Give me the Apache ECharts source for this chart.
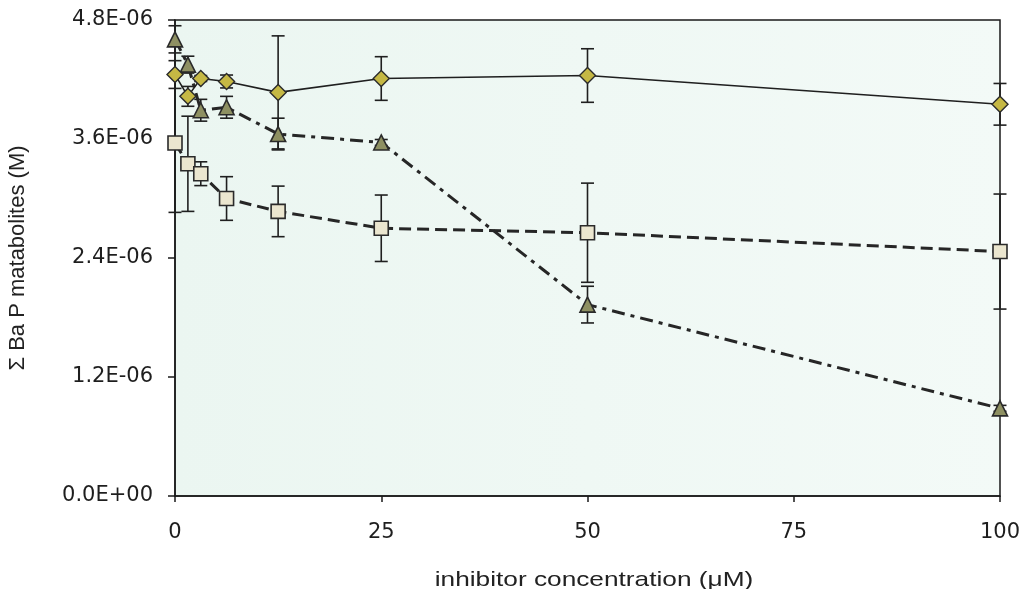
<!DOCTYPE html>
<html>
<head>
<meta charset="utf-8">
<script src="https://cdn.jsdelivr.net/npm/echarts@6/dist/echarts.min.js"></script>
<style>
  html, body { margin: 0; padding: 0; background: #ffffff; }
  #chart { width: 1025px; height: 589px; }
</style>
</head>
<body>
<div id="chart"></div>
<script>
// Inhibitor concentrations (µM)
const concentrations = [0, 1.5625, 3.125, 6.25, 12.5, 25, 50, 100];

// Σ BaP metabolites (M) and standard deviations for each condition
const diamondValues = [4.25e-6, 4.03e-6, 4.21e-6, 4.18e-6, 4.07e-6, 4.21e-6, 4.24e-6, 3.95e-6];
const diamondErrors = [0.14e-6, 0.10e-6, 0.03e-6, 0.065e-6, 0.57e-6, 0.22e-6, 0.27e-6, 0.21e-6];

const squareValues = [3.56e-6, 3.35e-6, 3.25e-6, 3.00e-6, 2.87e-6, 2.70e-6, 2.655e-6, 2.465e-6];
const squareErrors = [0.70e-6, 0.48e-6, 0.12e-6, 0.22e-6, 0.255e-6, 0.335e-6, 0.50e-6, 0.58e-6];

const triangleValues = [4.605e-6, 4.35e-6, 3.89e-6, 3.92e-6, 3.65e-6, 3.565e-6, 1.93e-6, 0.884e-6];
const triangleErrors = [0.137e-6, 0.085e-6, 0.11e-6, 0.11e-6, 0.16e-6, 0.03e-6, 0.185e-6, 0.03e-6];

// Axis ranges
const yMin = 0, yMax = 4.8e-6, yStep = 1.2e-6;
const xMin = 0, xMax = 100, xStep = 25;

const xTitle = 'inhibitor concentration (\u03BCM)';
const yTitle = '\u03A3 Ba P matabolites (M)';

// Spreadsheet-style scientific notation: 3.6E-06, 0.0E+00
function sciLabel(v) {
  if (Math.abs(v) < 1e-15) return '0.0E+00';
  const parts = v.toExponential(1).split('e');
  const exp = parseInt(parts[1], 10);
  const sign = exp < 0 ? '-' : '+';
  const mag = String(Math.abs(exp)).padStart(2, '0');
  return parts[0] + 'E' + sign + mag;
}

function pairs(xs, ys) { return xs.map((x, i) => [x, ys[i]]); }
function errData(xs, ys, es) { return xs.map((x, i) => [x, ys[i] - es[i], ys[i] + es[i]]); }

// Vertical error bars with caps, drawn in data coordinates
function errorBarSeries(xs, ys, es) {
  return {
    type: 'custom',
    z: 2,
    silent: true,
    data: errData(xs, ys, es),
    encode: { x: 0, y: [1, 2] },
    renderItem: function (params, api) {
      const x = api.value(0);
      const lo = api.coord([x, api.value(1)]);
      const hi = api.coord([x, api.value(2)]);
      const half = 6.5;
      const style = { stroke: '#1f1f1f', lineWidth: 1.6 };
      return {
        type: 'group',
        children: [
          { type: 'line', shape: { x1: lo[0], y1: lo[1], x2: hi[0], y2: hi[1] }, style: style },
          { type: 'line', shape: { x1: lo[0] - half, y1: lo[1], x2: lo[0] + half, y2: lo[1] }, style: style },
          { type: 'line', shape: { x1: hi[0] - half, y1: hi[1], x2: hi[0] + half, y2: hi[1] }, style: style }
        ]
      };
    }
  };
}

const chart = echarts.init(document.getElementById('chart'), null, { renderer: 'canvas' });

const tickFont = 'DejaVu Sans, Liberation Sans, sans-serif';
const titleFont = 'Liberation Sans, Arial, sans-serif';

chart.setOption({
  backgroundColor: '#ffffff',
  animation: false,
  grid: {
    left: 175, right: 25, top: 20, bottom: 93,
    outerBoundsMode: 'none',
    containLabel: false,
    show: true,
    backgroundColor: new echarts.graphic.LinearGradient(0, 0, 1, 0, [
      { offset: 0, color: '#ebf6f1' },
      { offset: 0.5, color: '#eff8f4' },
      { offset: 1, color: '#f3faf7' }
    ]),
    borderColor: '#1a1a1a',
    borderWidth: 1.5
  },
  xAxis: {
    type: 'value',
    min: xMin, max: xMax, interval: xStep,
    axisLine: { show: true, onZero: false, lineStyle: { color: '#1a1a1a', width: 1.5 } },
    axisTick: { show: true, length: 6, lineStyle: { color: '#1a1a1a', width: 1.5 } },
    axisLabel: { fontFamily: tickFont, fontSize: 21, color: '#1e1e1e', margin: 26 },
    splitLine: { show: false }
  },
  yAxis: {
    type: 'value',
    min: yMin, max: yMax, interval: yStep,
    name: yTitle,
    nameLocation: 'middle',
    nameGap: 146,
    nameRotate: 90,
    nameTextStyle: { fontFamily: titleFont, fontSize: 22, color: '#222' },
    axisLine: { show: true, onZero: false, lineStyle: { color: '#1a1a1a', width: 1.5 } },
    axisTick: { show: true, length: 7, lineStyle: { color: '#1a1a1a', width: 1.5 } },
    axisLabel: { fontFamily: tickFont, fontSize: 21, color: '#1e1e1e', margin: 22, formatter: sciLabel },
    splitLine: { show: false }
  },
  graphic: [{
    type: 'text',
    x: 594,
    y: 580,
    scaleX: 1.25,
    silent: true,
    style: {
      text: xTitle,
      font: '21px ' + titleFont,
      fill: '#222',
      align: 'center',
      verticalAlign: 'middle'
    }
  }],
  series: [
    errorBarSeries(concentrations, squareValues, squareErrors),
    errorBarSeries(concentrations, triangleValues, triangleErrors),
    errorBarSeries(concentrations, diamondValues, diamondErrors),
    {
      type: 'line',
      z: 3,
      data: pairs(concentrations, squareValues),
      symbol: 'rect',
      symbolSize: 14,
      showAllSymbol: true,
      lineStyle: { color: '#262626', width: 3, type: [12, 6] },
      itemStyle: { color: '#ebe6cf', borderColor: '#2a2a2a', borderWidth: 1.6 }
    },
    {
      type: 'line',
      z: 3,
      data: pairs(concentrations, triangleValues),
      symbol: 'triangle',
      symbolSize: 15,
      showAllSymbol: true,
      lineStyle: { color: '#262626', width: 3, type: [13, 6, 4, 6] },
      itemStyle: { color: '#8e9062', borderColor: '#2a2a2a', borderWidth: 1.6 }
    },
    {
      type: 'line',
      z: 4,
      data: pairs(concentrations, diamondValues),
      symbol: 'diamond',
      symbolSize: 16,
      showAllSymbol: true,
      lineStyle: { color: '#1f1f1f', width: 1.6, type: 'solid' },
      itemStyle: { color: '#c5b844', borderColor: '#2a2a2a', borderWidth: 1.4 }
    }
  ]
});
</script>
</body>
</html>
